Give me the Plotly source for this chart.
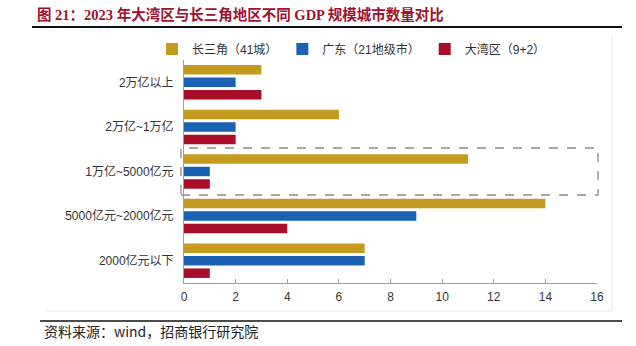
import plotly.graph_objects as go

categories = ["2万亿以上", "2万亿~1万亿", "1万亿~5000亿元", "5000亿元~2000亿元", "2000亿元以下"]
series_names = ["长三角（41城）", "广东（21地级市）", "大湾区（9+2）"]
yrd = [3, 6, 11, 14, 7]
gd = [2, 2, 1, 9, 7]
gba = [3, 2, 1, 4, 1]
x_ticks = [0, 2, 4, 6, 8, 10, 12, 14, 16]

colors = ["#C49B1E", "#1B62B3", "#A80D2A"]

fig = go.Figure()
for name, vals, c in zip(series_names, [yrd, gd, gba], colors):
    fig.add_trace(go.Bar(y=categories, x=vals, name=name, orientation="h",
                         marker=dict(color=c, line=dict(width=0))))

W, H = 636, 346
ml, mr, mt, mb = 184, 39, 60, 63
pw = W - ml - mr
ph = H - mt - mb

def px_x(p):
    return (p - ml) / pw

def px_y(p):
    return (H - mb - p) / ph

font_family = "Liberation Sans, Arial, Noto Sans CJK SC"

fig.update_layout(
    width=W, height=H,
    margin=dict(l=ml, r=mr, t=mt, b=mb),
    paper_bgcolor="white", plot_bgcolor="white",
    barmode="group", bargap=0.16, bargroupgap=0.24,
    font=dict(family=font_family, size=12, color="#333333"),
    showlegend=True,
    legend=dict(orientation="h", x=px_x(152), y=px_y(49), xanchor="left", yanchor="middle",
                font=dict(size=12, color="#333333"), traceorder="normal",
                bgcolor="rgba(0,0,0,0)"),
    xaxis=dict(range=[0, 16], tickvals=x_ticks, showgrid=False, zeroline=False,
               showline=True, linecolor="#A0A0A0", linewidth=1,
               ticks="inside", ticklen=4, tickcolor="#A0A0A0",
               tickfont=dict(size=12, color="#333333"), ticklabelstandoff=3,
               fixedrange=True),
    yaxis=dict(autorange="reversed", showgrid=False, zeroline=False,
               showline=True, linecolor="#A0A0A0", linewidth=1, ticks="",
               tickfont=dict(size=12, color="#333333"), ticklabelstandoff=7,
               fixedrange=True),
)

shapes = [
    dict(type="line", xref="paper", yref="paper", x0=px_x(32), x1=px_x(622), y0=px_y(27), y1=px_y(27),
         line=dict(color="#111111", width=2)),
    dict(type="line", xref="paper", yref="paper", x0=px_x(40), x1=px_x(622), y0=px_y(321), y1=px_y(321),
         line=dict(color="#111111", width=1.5)),
    dict(type="line", xref="paper", yref="paper", x0=px_x(612), x1=px_x(612), y0=px_y(37), y1=px_y(311),
         line=dict(color="#E4E4E4", width=1)),
    dict(type="line", xref="paper", yref="paper", x0=px_x(47), x1=px_x(612), y0=px_y(311), y1=px_y(311),
         line=dict(color="#E4E4E4", width=1)),
    dict(type="rect", xref="paper", yref="paper", x0=px_x(181), x1=px_x(598), y0=px_y(195), y1=px_y(148),
         line=dict(color="#8A8A8A", width=1.3, dash="dash"), fillcolor="rgba(0,0,0,0)"),
]
fig.update_layout(shapes=shapes)

fig.add_annotation(text="<b>图 21：2023 年大湾区与长三角地区不同 GDP 规模城市数量对比</b>",
                   xref="paper", yref="paper", x=px_x(35), y=px_y(14), xanchor="left", yanchor="middle",
                   showarrow=False,
                   font=dict(family="Liberation Serif, Noto Sans CJK SC", size=14.5, color="#A0112D"))
fig.add_annotation(text="资料来源：wind，招商银行研究院",
                   xref="paper", yref="paper", x=px_x(42), y=px_y(331), xanchor="left", yanchor="middle",
                   showarrow=False,
                   font=dict(family="Noto Sans CJK SC", size=14, color="#222222"))

fig.write_html("out.html")
